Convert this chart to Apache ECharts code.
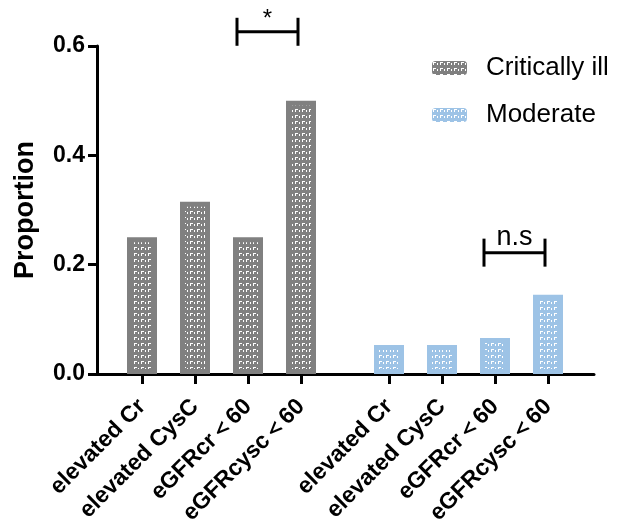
<!DOCTYPE html>
<html>
<head>
<meta charset="utf-8">
<script src="https://cdn.jsdelivr.net/npm/echarts@6/dist/echarts.min.js"></script>
<style>
  html, body { margin: 0; padding: 0; background: #fff; }
  #chart { width: 618px; height: 527px; }
</style>
</head>
<body>
<div id="chart"></div>
<script>
// categories and values
var categories = ['elevated Cr', 'elevated CysC', 'eGFRcr\uFF1C60', 'eGFRcysc\uFF1C60'];
var critically = [0.25, 0.315, 0.25, 0.5];
var moderate = [0.053, 0.053, 0.066, 0.145];
var yTicks = [0, 0.2, 0.4, 0.6];

var FONT = 'Arial, "Liberation Sans", sans-serif';
var GRAY = '#808080';
var BLUE = '#9dc3e6';

function makePattern (bg) {
    var c = document.createElement('canvas');
    c.width = 7;
    c.height = 6;
    var ctx = c.getContext('2d');
    ctx.fillStyle = bg;
    ctx.fillRect(0, 0, 7, 6);
    ctx.fillStyle = '#ffffff';
    ctx.fillRect(1, 1, 3, 1);
    ctx.fillRect(1, 1, 1, 3);
    ctx.fillRect(5, 2, 1, 2);
    return { image: c, repeat: 'repeat' };
}

var chart = echarts.init(document.getElementById('chart'));

function catAxis (grid) {
    return {
        type: 'category',
        gridIndex: grid,
        data: categories,
        axisLine: { show: false },
        axisTick: { show: true, alignWithLabel: true, length: 10, lineStyle: { color: '#000', width: 3 } },
        axisLabel: {
            interval: 0,
            rotate: 45,
            margin: 29,
            color: '#000',
            fontFamily: FONT,
            fontWeight: 'bold',
            fontSize: 23
        }
    };
}

function hiddenY (grid) {
    return { type: 'value', gridIndex: grid, min: 0, max: 0.6, show: false };
}

function barSeries (name, data, color, idx) {
    return {
        name: name,
        type: 'bar',
        xAxisIndex: idx,
        yAxisIndex: idx,
        data: data,
        barWidth: 30,
        itemStyle: {
            color: makePattern(color),
            borderColor: color,
            borderWidth: 5
        }
    };
}

chart.setOption({
    animation: false,
    grid: [
        { left: 97, top: 46, width: 497, height: 328, outerBoundsMode: 'none' },
        { left: 115.5, top: 46, width: 212, height: 328, outerBoundsMode: 'none' },
        { left: 362.5, top: 46, width: 212, height: 328, outerBoundsMode: 'none' }
    ],
    legend: {
        orient: 'vertical',
        left: 427,
        top: 50,
        itemWidth: 35,
        itemHeight: 14,
        itemGap: 21,
        itemStyle: { borderWidth: 0 },
        textStyle: { fontFamily: FONT, fontSize: 26, color: '#000', padding: [0, 0, 0, 14] },
        data: ['Critically ill', 'Moderate']
    },
    xAxis: [
        {
            type: 'value',
            gridIndex: 0,
            min: 0,
            max: 1,
            axisLine: { show: true, lineStyle: { color: '#000', width: 3 } },
            axisTick: { show: false },
            axisLabel: { show: false },
            splitLine: { show: false }
        },
        catAxis(1),
        catAxis(2)
    ],
    yAxis: [
        {
            type: 'value',
            gridIndex: 0,
            min: yTicks[0],
            max: yTicks[yTicks.length - 1],
            interval: 0.2,
            name: 'Proportion',
            nameLocation: 'middle',
            nameGap: 58,
            nameTextStyle: { fontFamily: FONT, fontWeight: 'bold', fontSize: 27, color: '#000' },
            axisLine: { show: true, lineStyle: { color: '#000', width: 3 } },
            axisTick: { show: true, length: 9, lineStyle: { color: '#000', width: 3 } },
            axisLabel: {
                margin: 12,
                color: '#000',
                fontFamily: FONT,
                fontWeight: 'bold',
                fontSize: 23,
                formatter: function (v) { return v.toFixed(1); }
            },
            splitLine: { show: false }
        },
        hiddenY(1),
        hiddenY(2)
    ],
    series: [
        barSeries('Critically ill', critically, GRAY, 1),
        barSeries('Moderate', moderate, BLUE, 2)
    ]
});

// significance brackets between the last two bars of each group
function bracket (idx, level, text, fontSize, lift) {
    var a = chart.convertToPixel({ xAxisIndex: idx, yAxisIndex: idx }, [2, level]);
    var b = chart.convertToPixel({ xAxisIndex: idx, yAxisIndex: idx }, [3, level]);
    var x1 = a[0] - 11, x2 = b[0] - 3, y = a[1];
    var ls = { stroke: '#000', lineWidth: 3 };
    return [
        { type: 'line', shape: { x1: x1, y1: y, x2: x2, y2: y }, style: ls },
        { type: 'line', shape: { x1: x1, y1: y - 14, x2: x1, y2: y + 14 }, style: ls },
        { type: 'line', shape: { x1: x2, y1: y - 14, x2: x2, y2: y + 14 }, style: ls },
        {
            type: 'text',
            x: (x1 + x2) / 2,
            y: y - lift,
            style: {
                text: text,
                fontFamily: FONT,
                fontSize: fontSize,
                fill: '#000',
                align: 'center',
                verticalAlign: 'bottom'
            }
        }
    ];
}

chart.setOption({
    graphic: bracket(1, 0.626, '*', 24, 0).concat(bracket(2, 0.222, 'n.s', 27, 2))
});
</script>
</body>
</html>
